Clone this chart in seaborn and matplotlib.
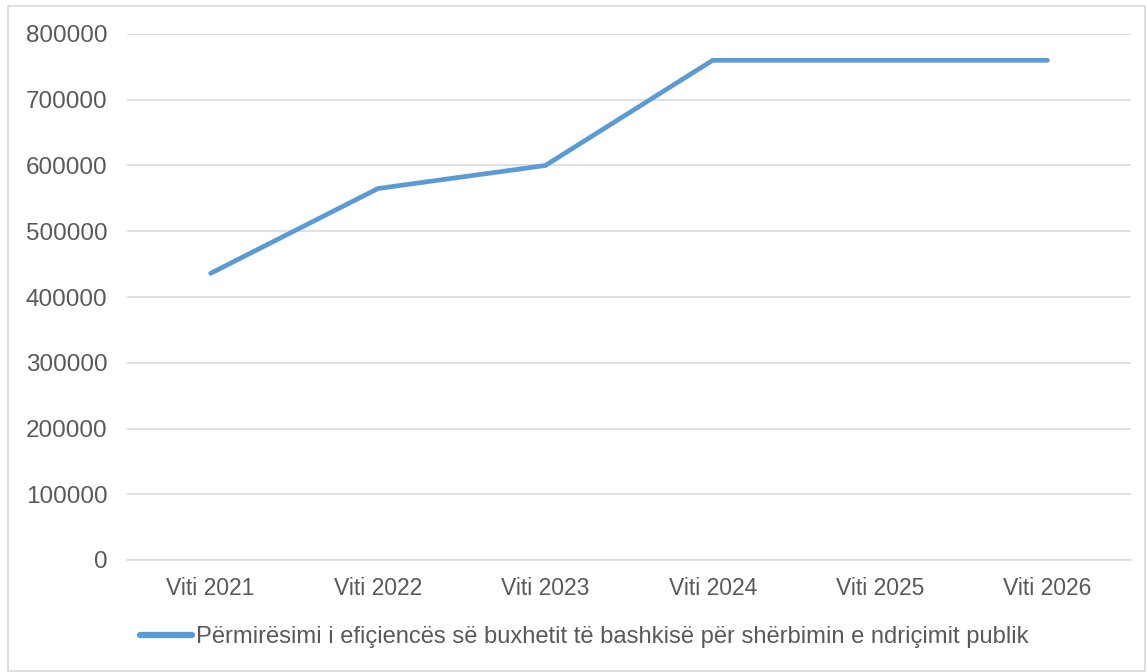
import numpy as np
import pandas as pd
import seaborn as sns
import matplotlib.pyplot as plt
from matplotlib.patches import Rectangle

# data
years = ["Viti 2021", "Viti 2022", "Viti 2023", "Viti 2024", "Viti 2025", "Viti 2026"]
values = [436000, 565000, 600000, 760000, 760000, 760000]
series_name = "Përmirësimi i efiçiencës së buxhetit të bashkisë për shërbimin e ndriçimit publik"

df = pd.DataFrame({"year": years, "value": values, "series": series_name})

sns.set_theme(style="white")
plt.rcParams['font.family'] = ['Liberation Sans', 'DejaVu Sans']
text_color = "#595959"
fs = 16.5

fig = plt.figure(figsize=(11.47, 6.72), dpi=100)
ax = fig.add_axes([127 / 1147, 1 - 560 / 672, (1131 - 127) / 1147, (560 - 34) / 672])

sns.lineplot(data=df, x="year", y="value", hue="series", palette=["#5B9BD5"],
             linewidth=3.4, sort=False, ax=ax, solid_capstyle="round",
             solid_joinstyle="round")

ax.set_xlim(-0.5, len(years) - 0.5)
ax.set_ylim(0, 800000)
ax.set_yticks(np.arange(0, 800001, 100000))
ax.set_yticklabels([str(v) for v in range(0, 800001, 100000)])
ax.yaxis.grid(True, color="#D9D9D9", linewidth=1.1)
ax.set_axisbelow(True)
for s in ["top", "right", "left"]:
    ax.spines[s].set_visible(False)
ax.spines["bottom"].set_color("#D9D9D9")
ax.spines["bottom"].set_linewidth(1.1)
ax.tick_params(axis="y", length=0, pad=14, labelsize=17.5, labelcolor=text_color)
ax.tick_params(axis="x", length=0, pad=12, labelsize=fs, labelcolor=text_color)
ax.set_xlabel("")
ax.set_ylabel("")

ax.legend_.remove()
handles, labels = ax.get_legend_handles_labels()
leg = fig.legend(handles, labels, loc="center", bbox_to_anchor=(584 / 1147, 1 - 637 / 672),
                 frameon=False, fontsize=17.1, handlelength=2.2, handletextpad=0.15)
for t in leg.get_texts():
    t.set_color(text_color)
for h in leg.legend_handles:
    h.set_linewidth(4.5)
    h.set_solid_capstyle("round")

# chart border
fig.patches.append(Rectangle((8 / 1147, 1 / 672), 1137 / 1147, 665 / 672,
                             transform=fig.transFigure, fill=False,
                             edgecolor="#D9D9D9", linewidth=1.2))

plt.savefig("out.png", dpi=100)
